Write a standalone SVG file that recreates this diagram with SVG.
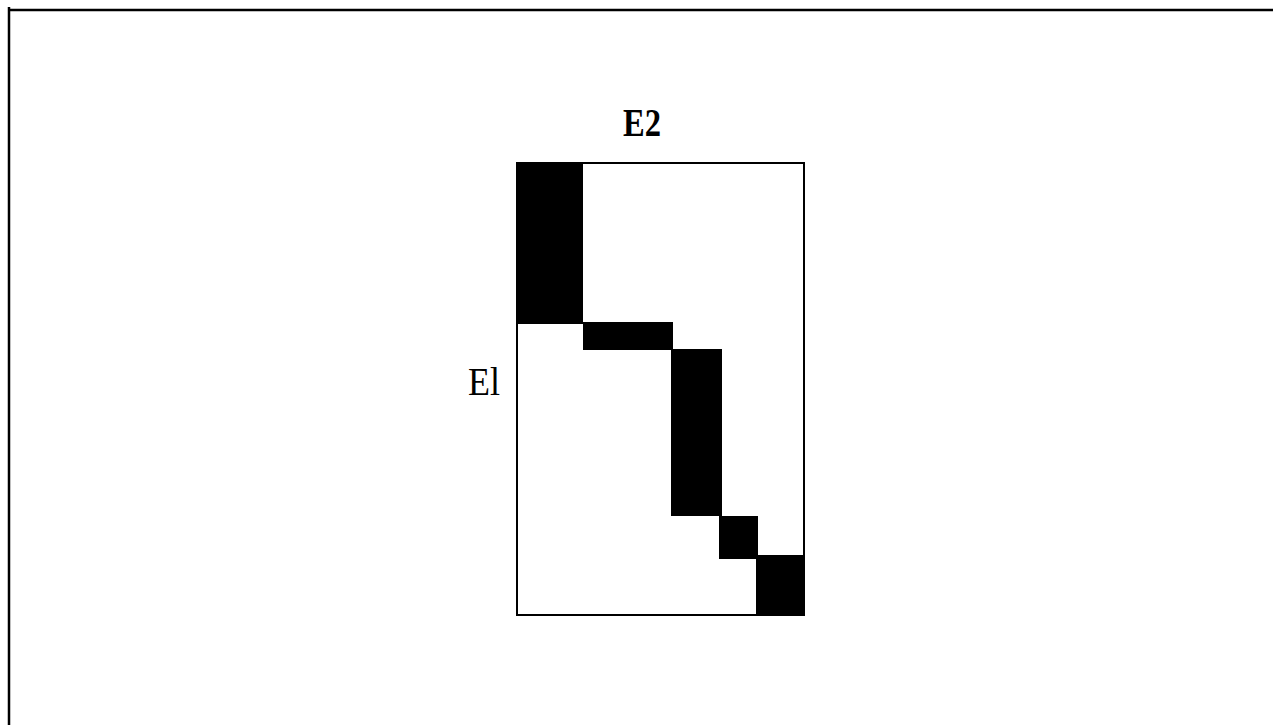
<svg xmlns="http://www.w3.org/2000/svg" width="1273" height="725" viewBox="0 0 1273 725">
<style>
.frame{stroke:#000;stroke-width:2.5;fill:none}
.box{stroke:#000;stroke-width:2;fill:#fff}
.blk{fill:#000}
.lbl{font-family:"Liberation Serif","Times New Roman",serif;fill:#000}
</style>
<rect width="1273" height="725" fill="#fff"/>
<g id="frame">
<line class="frame" x1="9" y1="7" x2="9" y2="725"/>
<line class="frame" x1="8" y1="10" x2="1273" y2="10"/>
</g>
<g id="matrix">
<rect class="box" x="517" y="163" width="287" height="452"/>
<rect class="blk" x="517" y="162" width="66" height="162"/>
<rect class="blk" x="583" y="322" width="90" height="28"/>
<rect class="blk" x="671" y="349" width="51" height="167"/>
<rect class="blk" x="719" y="516" width="39" height="43"/>
<rect class="blk" x="756" y="555" width="47" height="61"/>
</g>
<g id="label-e2">
<text class="lbl" x="623" y="136" font-size="40" font-weight="bold" textLength="38" lengthAdjust="spacingAndGlyphs">E2</text>
</g>
<g id="label-e1">
<text class="lbl" x="468" y="395" font-size="40" textLength="32" lengthAdjust="spacingAndGlyphs">El</text>
</g>
<g id="connectors"></g>
</svg>
